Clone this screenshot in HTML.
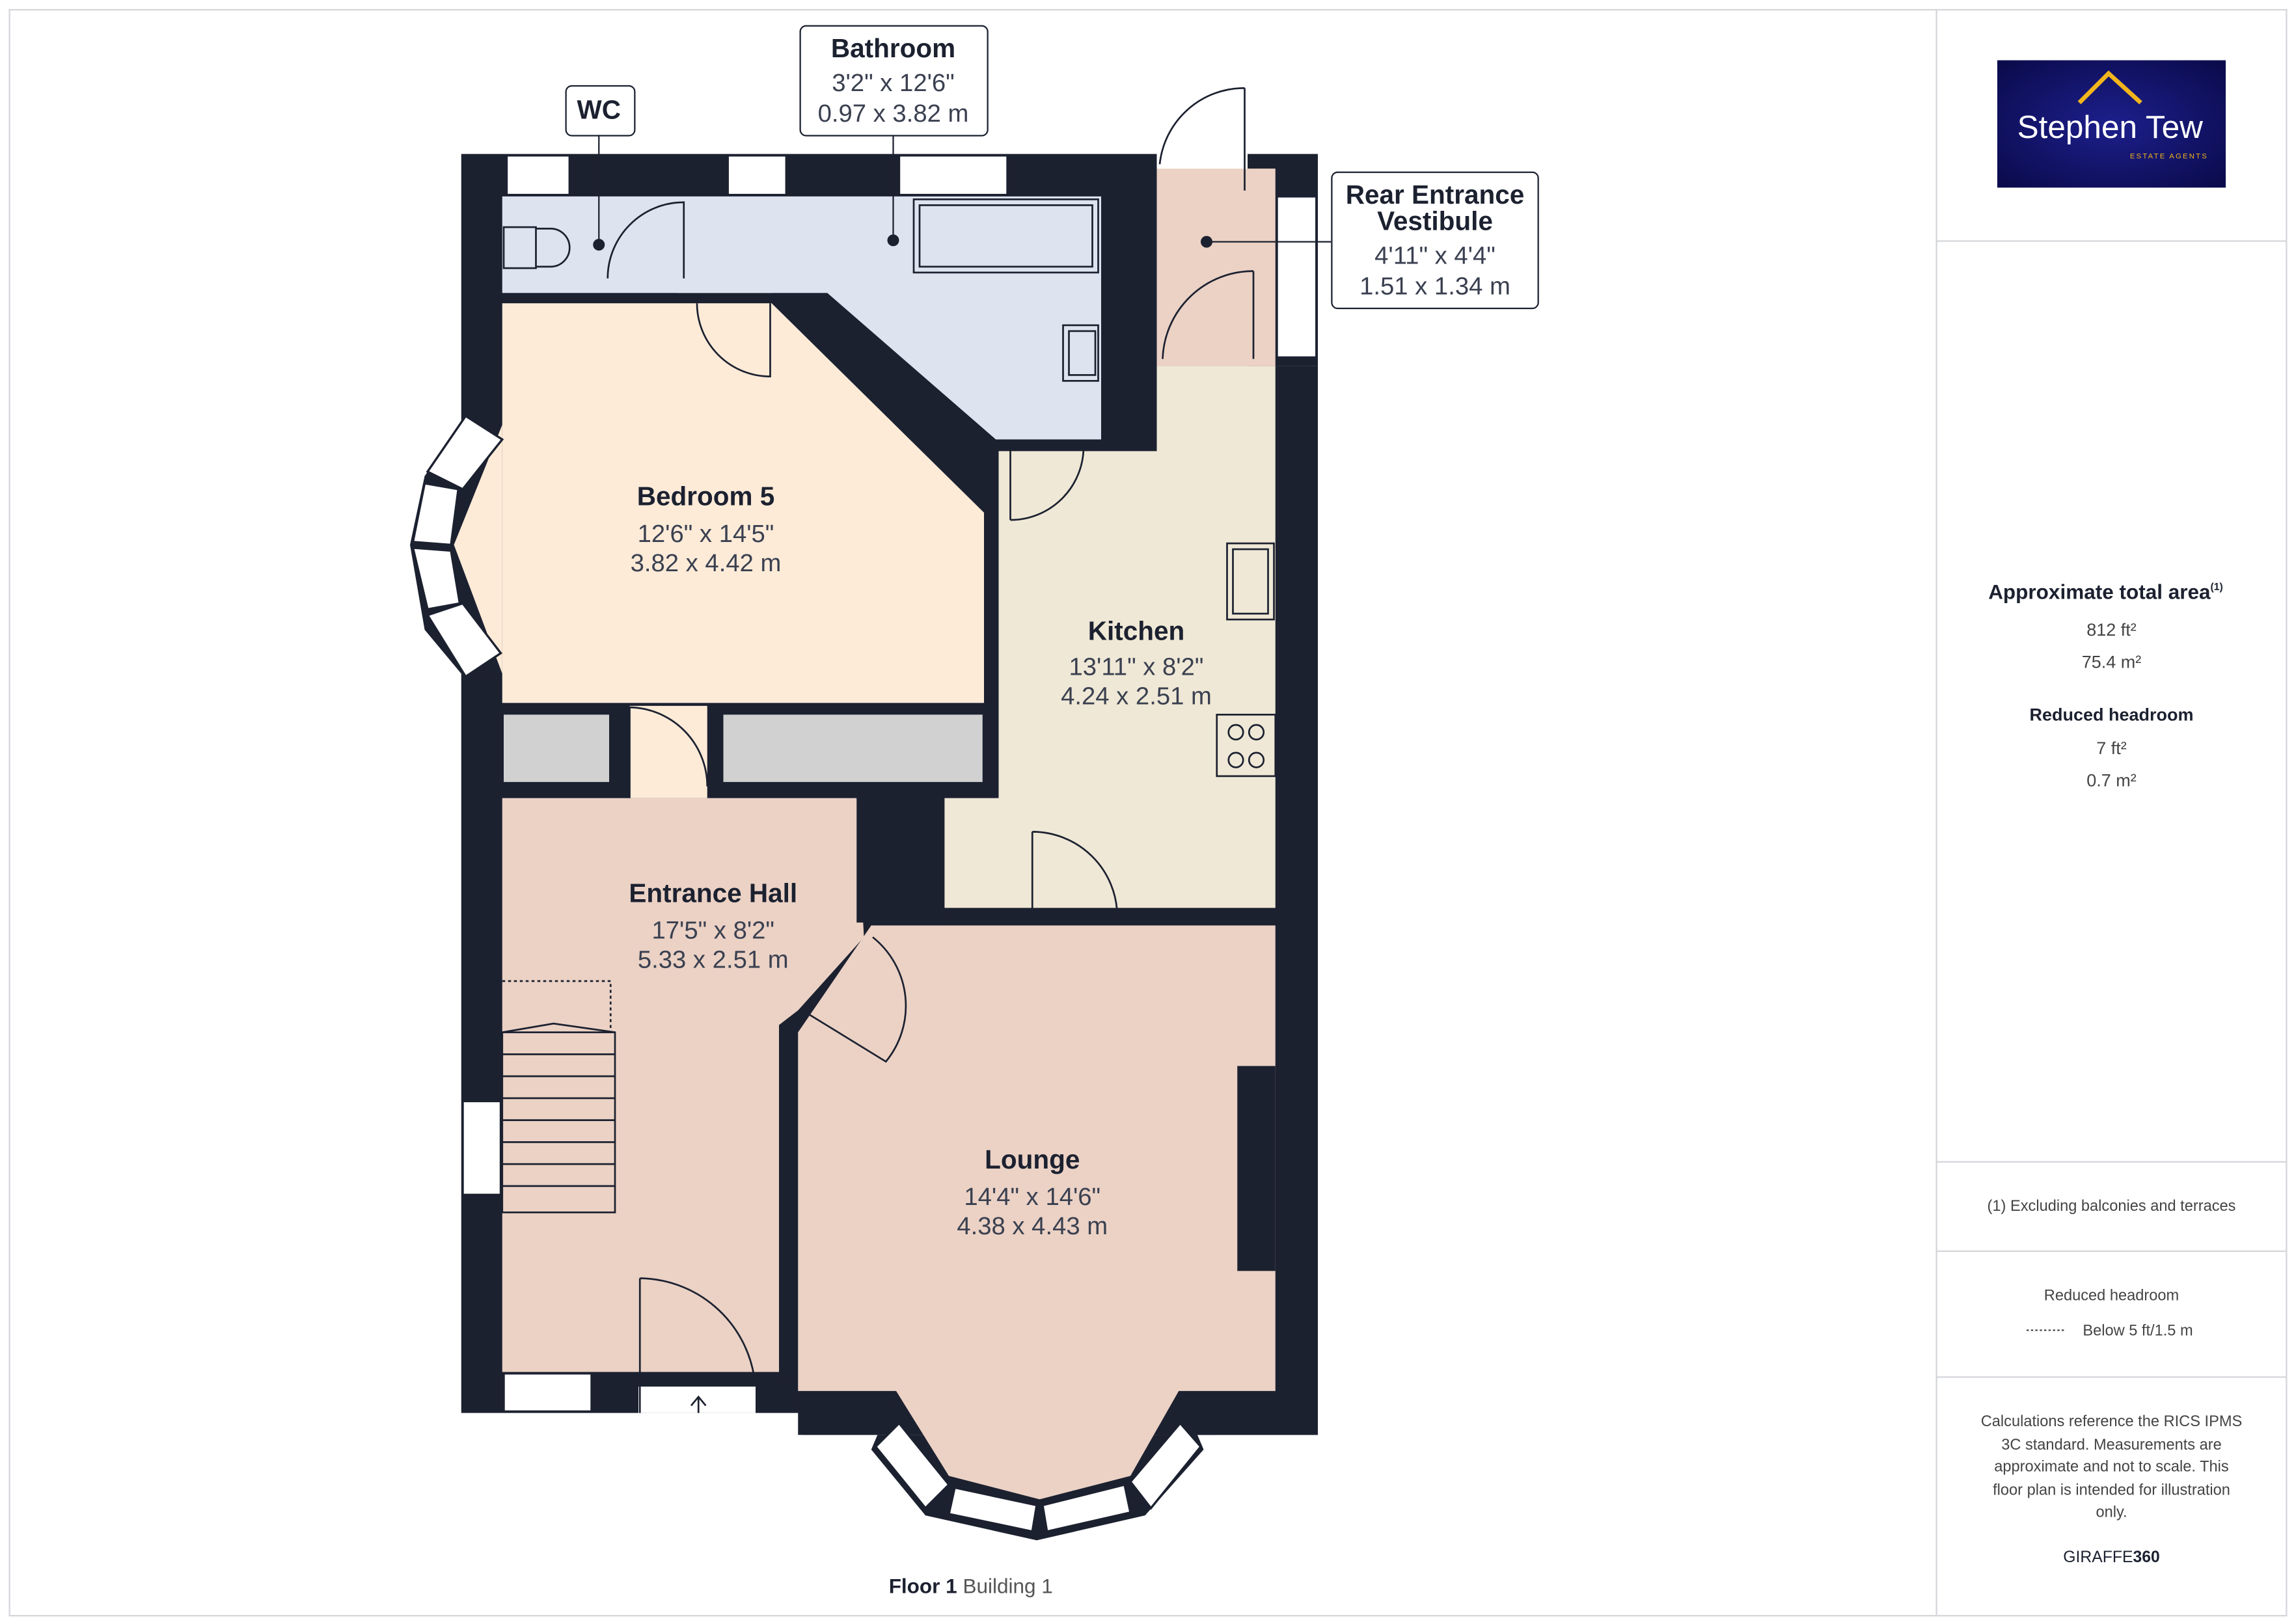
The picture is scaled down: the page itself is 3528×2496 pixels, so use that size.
<!DOCTYPE html>
<html><head><meta charset="utf-8"><style>
html,body{margin:0;padding:0;background:#fff}
svg{display:block}
text{font-family:"Liberation Sans",sans-serif}
</style></head><body>
<svg width="3528" height="2496" viewBox="0 0 1568 1109" xmlns="http://www.w3.org/2000/svg">
<rect x="0" y="0" width="1568" height="1109" fill="#fff"/>
<rect x="6.5" y="6.5" width="1555" height="1097" fill="none" stroke="#d4d6da" stroke-width="1"/>
<line x1="1322.5" y1="6" x2="1322.5" y2="1103" stroke="#d4d6da"/>
<line x1="1322" y1="164.5" x2="1562" y2="164.5" stroke="#d4d6da"/>
<line x1="1322" y1="793.5" x2="1562" y2="793.5" stroke="#d4d6da"/>
<line x1="1322" y1="854.5" x2="1562" y2="854.5" stroke="#d4d6da"/>
<line x1="1322" y1="940.5" x2="1562" y2="940.5" stroke="#d4d6da"/>

<defs><radialGradient id="lg" cx="50%" cy="50%" r="70%"><stop offset="0" stop-color="#1d1f8c"/><stop offset="1" stop-color="#0a0a4a"/></radialGradient></defs>
<rect x="1364" y="41" width="156" height="87" fill="url(#lg)"/>
<polyline points="1420,70 1440,50 1462,70" fill="none" stroke="#f2b51c" stroke-width="3"/>
<text x="1441" y="94" font-size="22" fill="#fff" text-anchor="middle">Stephen Tew</text>
<text x="1508" y="108" font-size="5" fill="#f2b51c" text-anchor="end" letter-spacing="1">ESTATE AGENTS</text>

<g fill="#1c2130" text-anchor="middle">
<text x="1438" y="409" font-size="14" font-weight="bold">Approximate total area<tspan font-size="7" dy="-6">(1)</tspan></text>
<text x="1442" y="434" font-size="12" fill="#444">812 ft²</text>
<text x="1442" y="456" font-size="12" fill="#444">75.4 m²</text>
<text x="1442" y="492" font-size="12" font-weight="bold">Reduced headroom</text>
<text x="1442" y="515" font-size="12" fill="#444">7 ft²</text>
<text x="1442" y="537" font-size="12" fill="#444">0.7 m²</text>
<text x="1442" y="827" font-size="10.5" fill="#444">(1) Excluding balconies and terraces</text>
<text x="1442" y="888" font-size="10.5" fill="#444">Reduced headroom</text>
<text x="1460" y="912" font-size="10.5" fill="#444">Below 5 ft/1.5 m</text>
<text x="1442" y="974" font-size="10.5" fill="#444">Calculations reference the RICS IPMS</text>
<text x="1442" y="990" font-size="10.5" fill="#444">3C standard. Measurements are</text>
<text x="1442" y="1005" font-size="10.5" fill="#444">approximate and not to scale. This</text>
<text x="1442" y="1021" font-size="10.5" fill="#444">floor plan is intended for illustration</text>
<text x="1442" y="1036" font-size="10.5" fill="#444">only.</text>
<text x="1442" y="1067" font-size="11">GIRAFFE<tspan font-weight="bold">360</tspan></text>
<text x="663" y="1088" font-size="14"><tspan font-weight="bold">Floor 1</tspan><tspan fill="#555">   Building 1</tspan></text>
</g>
<line x1="1384" y1="908.5" x2="1410" y2="908.5" stroke="#444" stroke-dasharray="1.5,1.5"/>

<g fill="#1c2130">
<rect x="315" y="105" width="475" height="860"/>
<rect x="790" y="250" width="110" height="730"/>
<rect x="852" y="105" width="48" height="145"/>
<rect x="545" y="937" width="355" height="43"/>
<polygon points="548,950 612,950 595,990 632,1035 708,1052 782,1035 822,990 805,950 830,950 830,980 548,980"/>
<polygon points="315,290 343,290 343,460 315,460 290,430 280,372 290,325"/>
</g>

<polygon points="343,134 752,134 752,300 680,300 565,200 343,200" fill="#dde3ef"/>
<rect x="343" y="200" width="120" height="7" fill="#1c2130"/>
<polygon points="343,207 527,207 672,350 672,480 343,480" fill="#fdebd8"/>
<polygon points="343,290 310,372 343,460" fill="#fdebd8"/>
<polygon points="527,200 565,200 680,300 680,345 672,345" fill="#1c2130"/>
<rect x="343" y="487" width="74" height="48" fill="#d1d1d1" stroke="#1c2130" stroke-width="2"/>
<rect x="493" y="487" width="179" height="48" fill="#d1d1d1" stroke="#1c2130" stroke-width="2"/>
<rect x="430" y="482" width="53" height="63" fill="#fdebd8"/>
<polygon points="682,308 790,308 790,250 871,250 871,620 645,620 645,545 682,545" fill="#efe8d6"/>
<rect x="790" y="115" width="81" height="135" fill="#ebd2c5"/>
<rect x="790" y="105" width="62" height="10" fill="#fff"/>
<polygon points="343,545 585,545 590,640 545,690 532,700 532,937 343,937" fill="#ebd2c5"/>
<rect x="532" y="700" width="13" height="240" fill="#1c2130"/>
<rect x="585" y="545" width="60" height="85" fill="#1c2130"/>
<polygon points="545,705 595,632 871,632 871,950 805,950 772,1008 710,1024 648,1008 612,950 545,950" fill="#ebd2c5"/>
<rect x="845" y="728" width="26" height="140" fill="#1c2130"/>

<g fill="#fff" stroke="#1c2130" stroke-width="1.5">
<rect x="346" y="106" width="43" height="27"/>
<rect x="497" y="106" width="40" height="27"/>
<rect x="614" y="106" width="74" height="27"/>
<rect x="872" y="134" width="27" height="110"/>
<rect x="316" y="752" width="26" height="64"/>
<rect x="344" y="938" width="60" height="26"/>
<polygon points="318,284 343,300 316,334 292,322"/>
<polygon points="290,330 313,334 308,372 282,370"/>
<polygon points="282,374 308,376 314,412 292,416"/>
<polygon points="292,420 316,412 342,446 318,462"/>
<polygon points="598,988 614,972 648,1014 632,1030"/>
<polygon points="652,1016 708,1028 705,1046 648,1034"/>
<polygon points="712,1028 768,1014 772,1033 715,1046"/>
<polygon points="772,1012 806,972 820,988 786,1030"/>
<rect x="436" y="947" width="80" height="18" stroke="none"/>
</g>

<g fill="none" stroke="#1c2130" stroke-width="1.2">
<rect x="344" y="155" width="22" height="28"/><path d="M366,156 h10 a13,13 0 0 1 0,26 h-10"/>
<rect x="624" y="136" width="126" height="50"/><rect x="628" y="140" width="118" height="42"/>
<rect x="726" y="222" width="24" height="38"/><rect x="730" y="226" width="18" height="30"/>
<rect x="838" y="371" width="32" height="52"/><rect x="842" y="375" width="24" height="44"/>
<rect x="831" y="488" width="40" height="42"/>
<circle cx="844" cy="500" r="5"/><circle cx="858" cy="500" r="5"/><circle cx="844" cy="519" r="5"/><circle cx="858" cy="519" r="5"/>
<path d="M415,190 A52,52 0 0 1 467,138 L467,190"/>
<path d="M476,207 A50,50 0 0 0 526,257 L526,207"/>
<path d="M690,355 L690,305 M690,355 A50,50 0 0 0 740,305"/>
<path d="M850,130 L850,60 M850,60 A58,58 0 0 0 792,112"/>
<path d="M856,245 L856,185 M856,185 A62,62 0 0 0 794,245"/>
<path d="M430,483 L430,545 M430,483 A54,54 0 0 1 483,537"/>
<path d="M705,568 L705,625 M705,568 A58,58 0 0 1 763,625"/>
<path d="M596,640 A60,60 0 0 1 605,725 L548,690"/>
<path d="M437,873 L437,965 M437,873 A80,80 0 0 1 515,940"/>
<rect x="343" y="705" width="77" height="123"/>
<path d="M343,720 h77 M343,735 h77 M343,750 h77 M343,765 h77 M343,780 h77 M343,795 h77 M343,810 h77 M343,705 l35,-6 l42,6"/>
<path d="M343,670 H417 V705" stroke-dasharray="2,2"/>
<path d="M477,965 v-10 M472,960 l5,-6 l5,6"/>
</g>
<g fill="#fff" stroke="#1c2130" stroke-width="1">
<rect x="386.5" y="58.5" width="47" height="34" rx="4"/>
<rect x="546.5" y="17.5" width="128" height="75" rx="4"/>
<rect x="909.5" y="117.5" width="141" height="93" rx="4"/>
</g>
<g stroke="#1c2130" stroke-width="1"><line x1="409" y1="92" x2="409" y2="166"/><line x1="610" y1="92" x2="610" y2="164"/><line x1="824" y1="165" x2="909" y2="165"/></g>
<g fill="#1c2130"><circle cx="409" cy="167" r="4"/><circle cx="610" cy="164" r="4"/><circle cx="824" cy="165" r="4"/></g>

<g fill="#1c2130" text-anchor="middle">
<text x="409" y="81" font-size="18" font-weight="bold">WC</text>
<text x="610" y="39" font-size="18" font-weight="bold">Bathroom</text>
<text x="610" y="62" font-size="17" fill="#3a4050">3'2" x 12'6"</text>
<text x="610" y="83" font-size="17" fill="#3a4050">0.97 x 3.82 m</text>
<text x="980" y="139" font-size="18" font-weight="bold">Rear Entrance</text>
<text x="980" y="157" font-size="18" font-weight="bold">Vestibule</text>
<text x="980" y="180" font-size="17" fill="#3a4050">4'11" x 4'4"</text>
<text x="980" y="201" font-size="17" fill="#3a4050">1.51 x 1.34 m</text>
<text x="482" y="345" font-size="18" font-weight="bold">Bedroom 5</text>
<text x="482" y="370" font-size="17" fill="#3a4050">12'6" x 14'5"</text>
<text x="482" y="390" font-size="17" fill="#3a4050">3.82 x 4.42 m</text>
<text x="776" y="437" font-size="18" font-weight="bold">Kitchen</text>
<text x="776" y="461" font-size="17" fill="#3a4050">13'11" x 8'2"</text>
<text x="776" y="481" font-size="17" fill="#3a4050">4.24 x 2.51 m</text>
<text x="487" y="616" font-size="18" font-weight="bold">Entrance Hall</text>
<text x="487" y="641" font-size="17" fill="#3a4050">17'5" x 8'2"</text>
<text x="487" y="661" font-size="17" fill="#3a4050">5.33 x 2.51 m</text>
<text x="705" y="798" font-size="18" font-weight="bold">Lounge</text>
<text x="705" y="823" font-size="17" fill="#3a4050">14'4" x 14'6"</text>
<text x="705" y="843" font-size="17" fill="#3a4050">4.38 x 4.43 m</text>
</g>
</svg>
</body></html>
